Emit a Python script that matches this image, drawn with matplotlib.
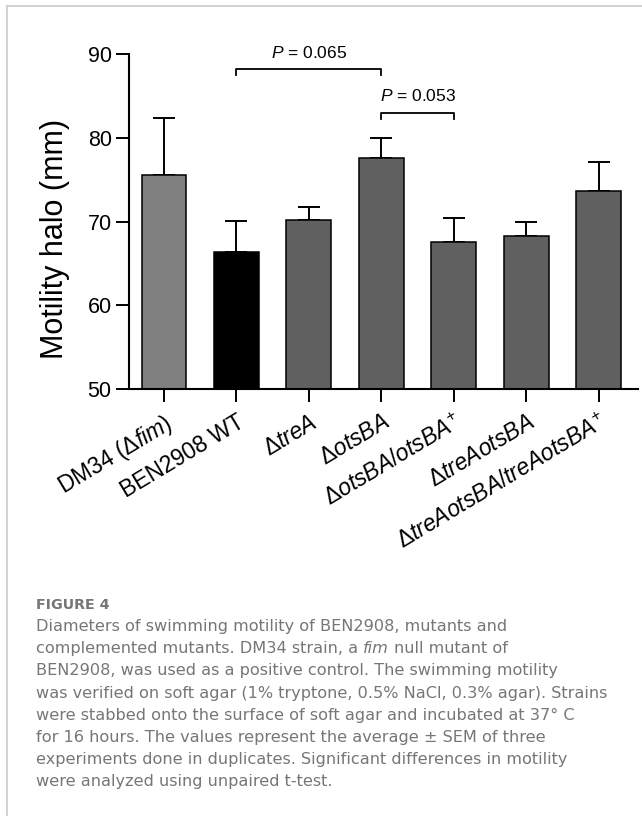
import matplotlib
matplotlib.use('Agg')
import matplotlib.pyplot as plt
from matplotlib.lines import Line2D
import numpy as np

plt.rcParams['font.family'] = 'Liberation Sans'
plt.rcParams['mathtext.fontset'] = 'custom'
plt.rcParams['mathtext.rm'] = 'Liberation Sans'
plt.rcParams['mathtext.it'] = 'Liberation Sans:italic'
plt.rcParams['mathtext.bf'] = 'Liberation Sans:bold'

# data
strains = ['DM34 ($\\Delta\\mathit{fim}$)', 'BEN2908 WT', '$\\Delta\\mathit{treA}$',
           '$\\Delta\\mathit{otsBA}$', '$\\Delta\\mathit{otsBA/otsBA}^{+}$',
           '$\\Delta\\mathit{treAotsBA}$', '$\\Delta\\mathit{treAotsBA/treAotsBA}^{+}$']
halo_mean = [75.6, 66.3, 70.2, 77.6, 67.6, 68.3, 73.6]
halo_sem = [6.7, 3.8, 1.5, 2.4, 2.8, 1.7, 3.5]
bar_colors = ['#808080', '#000000', '#606060', '#606060', '#606060', '#606060', '#606060']

# significance brackets: (bar i, bar j, bracket height, label)
brackets = [(1, 3, 88.2, '$\\mathit{P}$ = 0.065'),
            (3, 4, 83.0, '$\\mathit{P}$ = 0.053')]

caption_title = 'FIGURE 4'
caption_lines = [
    'Diameters of swimming motility of BEN2908, mutants and',
    None,  # line with italic "fim", drawn in pieces
    'BEN2908, was used as a positive control. The swimming motility',
    'was verified on soft agar (1% tryptone, 0.5% NaCl, 0.3% agar). Strains',
    'were stabbed onto the surface of soft agar and incubated at 37\u00b0 C',
    'for 16 hours. The values represent the average \u00b1 SEM of three',
    'experiments done in duplicates. Significant differences in motility',
    'were analyzed using unpaired t-test.',
]
line2_parts = [('complemented mutants. DM34 strain, a', 'normal'),
               ('fim', 'italic'),
               ('null mutant of', 'normal')]

W, H = 642, 816
fig = plt.figure(figsize=(W / 100, H / 100), dpi=100)
ax = fig.add_axes([129 / W, 1 - 389 / H, (638 - 129) / W, (389 - 54) / H])

x = np.arange(len(strains))
ax.bar(x, halo_mean, width=0.62, color=bar_colors, edgecolor='black', linewidth=1.1, zorder=2)
ax.errorbar(x, halo_mean, yerr=[np.zeros(len(x)), halo_sem], fmt='none', ecolor='black',
            elinewidth=1.4, capsize=8, capthick=1.4, zorder=1)

ax.set_ylim(50, 90)
ax.set_xlim(-0.483, 6.54)
ax.set_yticks([50, 60, 70, 80, 90])
ax.set_xticks(x)
ax.set_xticklabels(strains, rotation=31, ha='right', va='top', rotation_mode='anchor', fontsize=16.5)
ax.tick_params(axis='both', direction='out', length=9.5, width=1.4, labelsize=15.5, color='black')
ax.tick_params(axis='x', pad=6, labelsize=16.5)
ax.tick_params(axis='y', pad=3)
for s in ['top', 'right']:
    ax.spines[s].set_visible(False)
for s in ['left', 'bottom']:
    ax.spines[s].set_linewidth(1.5)

ax.set_ylabel('Motility halo (mm)', fontsize=22)
ax.yaxis.set_label_coords(-0.145, 0.448)
ax.yaxis.label.set_va('center')

for i, j, yb, lab in brackets:
    ax.plot([i, i, j, j], [yb - 0.75, yb, yb, yb - 0.75], color='black', lw=1.3, clip_on=False)
    ax.text((i + j) / 2, yb + 1.0, lab, ha='center', va='bottom', fontsize=12.5, clip_on=False)

# frame
fig.add_artist(Line2D([7 / W, 1], [1 - 6 / H, 1 - 6 / H], color='#cccccc', lw=1.2))
fig.add_artist(Line2D([7 / W, 7 / W], [0, 1 - 6 / H], color='#cccccc', lw=1.2))

# caption
cap_font = 'DejaVu Sans'
cap_color = '#767676'
cap_size = 11.6
cap_x = 36 / W
fig.text(cap_x, 1 - 609 / H, caption_title, fontsize=10.3, fontweight='bold', color=cap_color,
         family=cap_font, va='baseline')
y0, dy = 631, 22.2
renderer = fig.canvas.get_renderer()
for k, line in enumerate(caption_lines):
    yy = 1 - (y0 + k * dy) / H
    if line is not None:
        fig.text(cap_x, yy, line, fontsize=cap_size, color=cap_color, family=cap_font, va='baseline')
    else:
        sp = fig.text(0, 0, 'a a', fontsize=cap_size, family=cap_font)
        nsp = fig.text(0, 0, 'aa', fontsize=cap_size, family=cap_font)
        space_w = (sp.get_window_extent(renderer).width - nsp.get_window_extent(renderer).width) / W
        sp.remove()
        nsp.remove()
        xx = cap_x
        for txt, style in line2_parts:
            t = fig.text(xx, yy, txt, fontsize=cap_size, color=cap_color, family=cap_font,
                         style=style, va='baseline')
            xx += t.get_window_extent(renderer).width / W + space_w

fig.savefig('out.png', dpi=100)
